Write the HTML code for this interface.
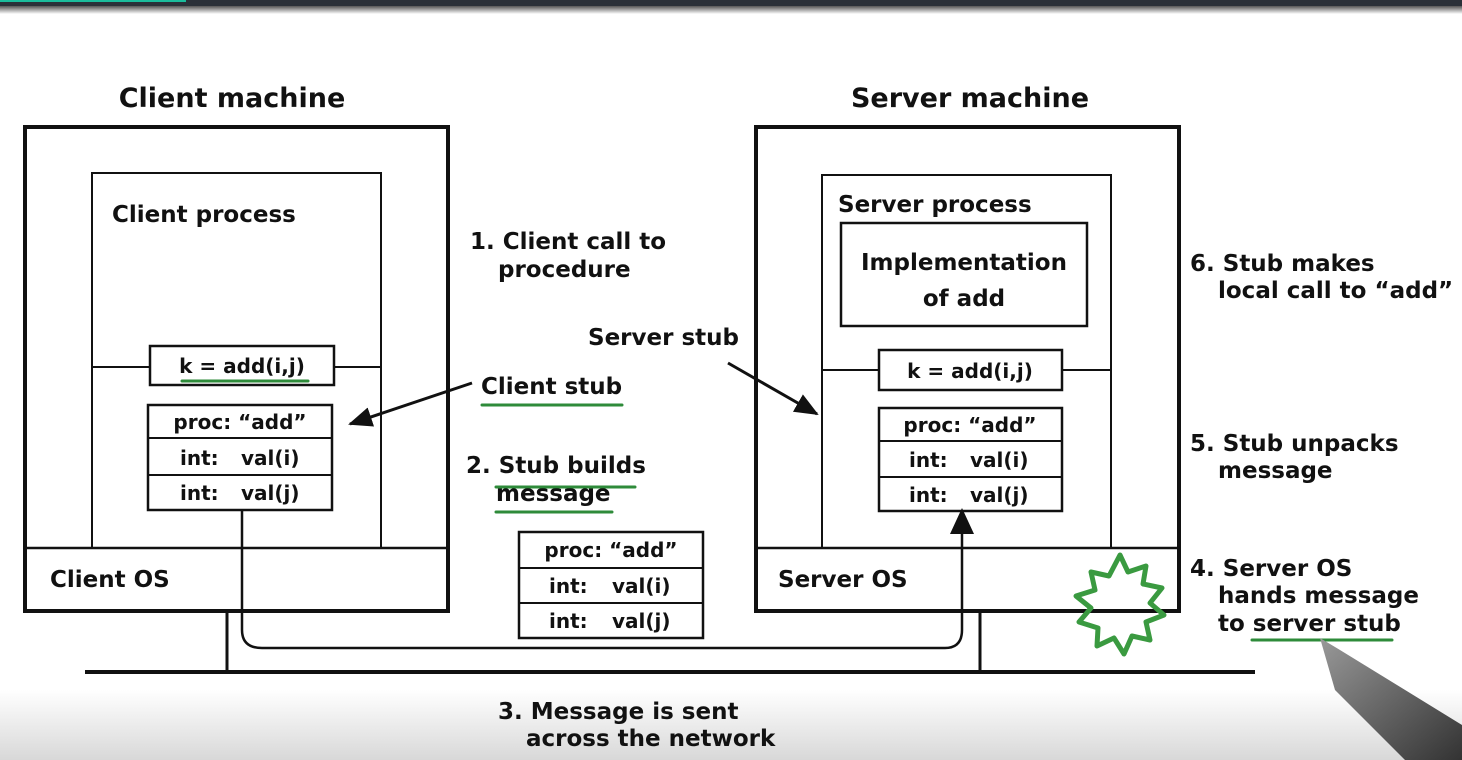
<!DOCTYPE html>
<html><head><meta charset="utf-8"><style>
html,body{margin:0;padding:0;background:#fff;width:1462px;height:760px;overflow:hidden}
svg text{font-family:"DejaVu Sans","Liberation Sans",sans-serif;fill:#111}
.t{font-size:23px;font-weight:bold}
.h{font-size:27px;font-weight:bold}
.b{font-size:20px;font-weight:bold}
</style></head><body>
<svg width="1462" height="760" viewBox="0 0 1462 760" xmlns="http://www.w3.org/2000/svg">
<defs>
<linearGradient id="sh" x1="0" y1="0" x2="0" y2="1"><stop offset="0" stop-color="#555"/><stop offset="1" stop-color="#fff"/></linearGradient>
<linearGradient id="bot" x1="0" y1="0" x2="0" y2="1"><stop offset="0" stop-color="#fff"/><stop offset="1" stop-color="#d8d8d8"/></linearGradient>
<linearGradient id="pen" x1="0" y1="0" x2="1" y2="1"><stop offset="0" stop-color="#999"/><stop offset="0.5" stop-color="#666"/><stop offset="1" stop-color="#333"/></linearGradient>
<marker id="ar" markerWidth="24" markerHeight="20" refX="22" refY="10" orient="auto" markerUnits="userSpaceOnUse"><path d="M0,0 L24,10 L0,20 z" fill="#111"/></marker>
</defs>
<rect x="0" y="690" width="1462" height="70" fill="url(#bot)"/>
<rect x="0" y="0" width="1462" height="6" fill="#2a3038"/>
<rect x="0" y="0" width="186" height="2" fill="#1abc9c"/>
<rect x="0" y="6" width="1462" height="8" fill="url(#sh)"/>
<g fill="none" stroke="#111">
<rect x="25" y="127" width="423" height="484" stroke-width="4"/>
<rect x="92" y="173" width="289" height="375" stroke-width="2"/>
<line x1="25" y1="548" x2="448" y2="548" stroke-width="2.5"/>
<line x1="92" y1="367" x2="150" y2="367" stroke-width="2"/>
<line x1="334" y1="367" x2="381" y2="367" stroke-width="2"/>
<rect x="150" y="346" width="184" height="39" stroke-width="2.5"/>
<rect x="148" y="405" width="184" height="105" stroke-width="2.5"/>
<line x1="148" y1="438" x2="332" y2="438" stroke-width="2"/>
<line x1="148" y1="475" x2="332" y2="475" stroke-width="2"/>
<rect x="756" y="127" width="423" height="484" stroke-width="4"/>
<rect x="822" y="175" width="289" height="373" stroke-width="2"/>
<rect x="841" y="223" width="246" height="103" stroke-width="2.5"/>
<line x1="756" y1="548" x2="1179" y2="548" stroke-width="2.5"/>
<line x1="822" y1="370" x2="879" y2="370" stroke-width="2"/>
<line x1="1062" y1="370" x2="1111" y2="370" stroke-width="2"/>
<rect x="879" y="350" width="183" height="40" stroke-width="2.5"/>
<rect x="879" y="408" width="183" height="103" stroke-width="2.5"/>
<line x1="879" y1="441" x2="1062" y2="441" stroke-width="2"/>
<line x1="879" y1="477" x2="1062" y2="477" stroke-width="2"/>
<rect x="519" y="532" width="184" height="106" stroke-width="2.5"/>
<line x1="519" y1="568" x2="703" y2="568" stroke-width="2"/>
<line x1="519" y1="603" x2="703" y2="603" stroke-width="2"/>
<line x1="85" y1="672" x2="1255" y2="672" stroke-width="4"/>
<line x1="227" y1="611" x2="227" y2="672" stroke-width="3"/>
<line x1="980" y1="611" x2="980" y2="672" stroke-width="3"/>
<path d="M242,510 L242,630 Q242,648 262,648 L945,648 Q962,648 962,630 L962,530" stroke-width="2.5"/>
<line x1="472" y1="383" x2="350" y2="424" stroke-width="3" marker-end="url(#ar)"/>
<line x1="728" y1="363" x2="817" y2="414" stroke-width="3" marker-end="url(#ar)"/>
</g>
<path d="M962,508 L950,534 L974,534 z" fill="#111"/>
<g stroke="#2e8b3a" stroke-width="3" fill="none" stroke-linecap="round">
<line x1="182" y1="381" x2="308" y2="381"/>
<line x1="482" y1="405" x2="622" y2="405"/>
<line x1="496" y1="487" x2="635" y2="487"/>
<line x1="496" y1="512" x2="612" y2="512"/>
<line x1="1252" y1="640" x2="1392" y2="640"/>
</g>
<polygon points="1120,555 1128,572 1146,566 1143,584 1162,588 1150,603 1164,615 1146,622 1150,640 1132,636 1124,654 1114,638 1097,646 1098,628 1079,622 1091,608 1076,596 1095,590 1091,572 1109,576" fill="none" stroke="#3a9a40" stroke-width="5" stroke-linejoin="round"/>
<polygon points="1320,638 1340,650 1462,725 1462,760 1405,760 1335,690" fill="url(#pen)"/>
<text x="232" y="107" class="h" text-anchor="middle">Client machine</text>
<text x="970" y="107" class="h" text-anchor="middle">Server machine</text>
<text x="112" y="222" class="t">Client process</text>
<text x="50" y="587" class="t">Client OS</text>
<text x="242" y="373" class="b" text-anchor="middle">k = add(i,j)</text>
<text x="240" y="429" class="b" text-anchor="middle">proc: “add”</text>
<text x="180" y="465" class="b">int:</text><text x="241" y="465" class="b">val(i)</text>
<text x="180" y="500" class="b">int:</text><text x="241" y="500" class="b">val(j)</text>
<text x="838" y="212" class="t">Server process</text>
<text x="964" y="270" class="t" text-anchor="middle">Implementation</text>
<text x="964" y="306" class="t" text-anchor="middle">of add</text>
<text x="970" y="378" class="b" text-anchor="middle">k = add(i,j)</text>
<text x="970" y="432" class="b" text-anchor="middle">proc: “add”</text>
<text x="909" y="467" class="b">int:</text><text x="970" y="467" class="b">val(i)</text>
<text x="909" y="502" class="b">int:</text><text x="970" y="502" class="b">val(j)</text>
<text x="778" y="587" class="t">Server OS</text>
<text x="611" y="557" class="b" text-anchor="middle">proc: “add”</text>
<text x="549" y="593" class="b">int:</text><text x="612" y="593" class="b">val(i)</text>
<text x="549" y="628" class="b">int:</text><text x="612" y="628" class="b">val(j)</text>
<text x="470" y="249" class="t">1. Client call to</text>
<text x="498" y="277" class="t">procedure</text>
<text x="588" y="345" class="t">Server stub</text>
<text x="481" y="394" class="t">Client stub</text>
<text x="466" y="473" class="t">2. Stub builds</text>
<text x="496" y="501" class="t">message</text>
<text x="1190" y="271" class="t">6. Stub makes</text>
<text x="1218" y="298" class="t">local call to “add”</text>
<text x="1190" y="451" class="t">5. Stub unpacks</text>
<text x="1218" y="478" class="t">message</text>
<text x="1190" y="576" class="t">4. Server OS</text>
<text x="1218" y="603" class="t">hands message</text>
<text x="1218" y="631" class="t">to server stub</text>
<text x="498" y="719" class="t">3. Message is sent</text>
<text x="526" y="746" class="t">across the network</text>
</svg>
</body></html>
